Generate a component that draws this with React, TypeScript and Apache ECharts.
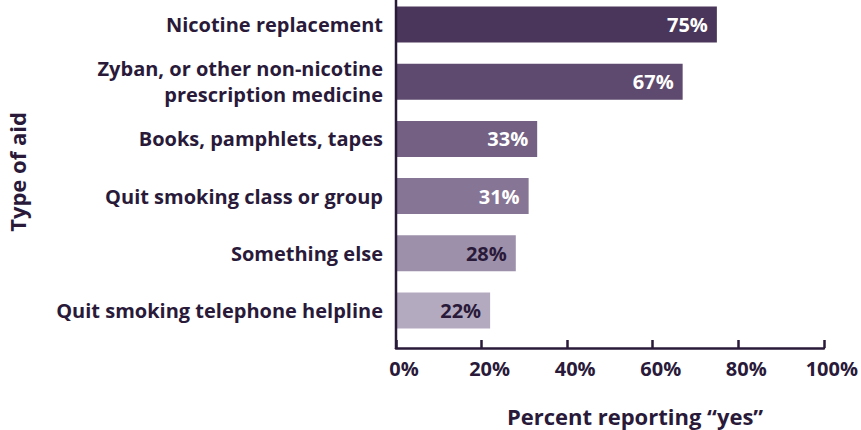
import React, { useEffect, useRef } from "react";
import * as echarts from "echarts";

const categories = [
  "Nicotine replacement",
  "Zyban, or other non-nicotine\nprescription medicine",
  "Books, pamphlets, tapes",
  "Quit smoking class or group",
  "Something else",
  "Quit smoking telephone helpline",
];
const values = [75, 67, 33, 31, 28, 22];
const barColors = ["#4a365a", "#5e4a6e", "#736083", "#877595", "#9d90ab", "#b4aabf"];
const labelColors = ["#ffffff", "#ffffff", "#ffffff", "#ffffff", "#2a1a3a", "#2a1a3a"];
const xTicks = { min: 0, max: 100, interval: 20 };
const xTitle = "Percent reporting \u201cyes\u201d";
const yTitle = "Type of aid";

const DARK = "#2a1a3a";
const FONT = "'Open Sans', 'Noto Sans', sans-serif";
const SHIFT = 4;

export default function App() {
  const ref = useRef<HTMLDivElement>(null);
  useEffect(() => {
    if (!ref.current) return;
    const chart = echarts.init(ref.current, undefined, { renderer: "svg" });
    chart.setOption({
      animation: false,
      grid: { left: 396, right: 35, top: 0, bottom: 91, containLabel: false },
      xAxis: {
        type: "value",
        min: xTicks.min,
        max: xTicks.max,
        interval: xTicks.interval,
        offset: 9,
        axisLine: { show: true, lineStyle: { color: DARK, width: 2.5 } },
        axisTick: { show: true, inside: true, length: 8, lineStyle: { color: DARK, width: 2.5 } },
        splitLine: { show: false },
        axisLabel: {
          formatter: "{value}%",
          color: DARK,
          fontFamily: FONT,
          fontWeight: "bold",
          fontSize: 20,
          margin: 10,
          padding: [0, 0, 0, 16],
        },
      },
      yAxis: {
        type: "category",
        data: categories,
        inverse: true,
        axisLine: { show: false },
        axisTick: { show: false },
        axisLabel: {
          color: DARK,
          fontFamily: FONT,
          fontWeight: "bold",
          fontSize: 20,
          lineHeight: 26,
          margin: 13,
          align: "right",
        },
      },
      series: [
        {
          type: "bar",
          barWidth: 36,
          data: values.map((v, i) => ({
            value: v,
            itemStyle: { color: barColors[i] },
            label: { color: labelColors[i] },
          })),
          label: {
            show: true,
            position: "insideRight",
            distance: 9,
            formatter: "{c}%",
            fontFamily: FONT,
            fontWeight: "bold",
            fontSize: 20,
          },
        },
      ],
      graphic: [
        {
          type: "line",
          shape: { x1: 396, y1: SHIFT, x2: 396, y2: 349 + SHIFT },
          style: { stroke: DARK, lineWidth: 2.5 },
          z: 10,
        },
        {
          type: "text",
          x: 635,
          y: 416 + SHIFT,
          style: {
            text: xTitle,
            fill: DARK,
            font: `bold 22px ${FONT}`,
            align: "center",
            verticalAlign: "middle",
          },
        },
        {
          type: "text",
          x: 17,
          y: 172 + SHIFT,
          rotation: Math.PI / 2,
          style: {
            text: yTitle,
            fill: DARK,
            font: `bold 22px ${FONT}`,
            align: "center",
            verticalAlign: "middle",
          },
        },
      ],
    });
    return () => chart.dispose();
  }, []);
  return (
    <div
      ref={ref}
      style={{ width: 861, height: 430 + SHIFT, position: "absolute", left: 0, top: -SHIFT }}
    />
  );
}
